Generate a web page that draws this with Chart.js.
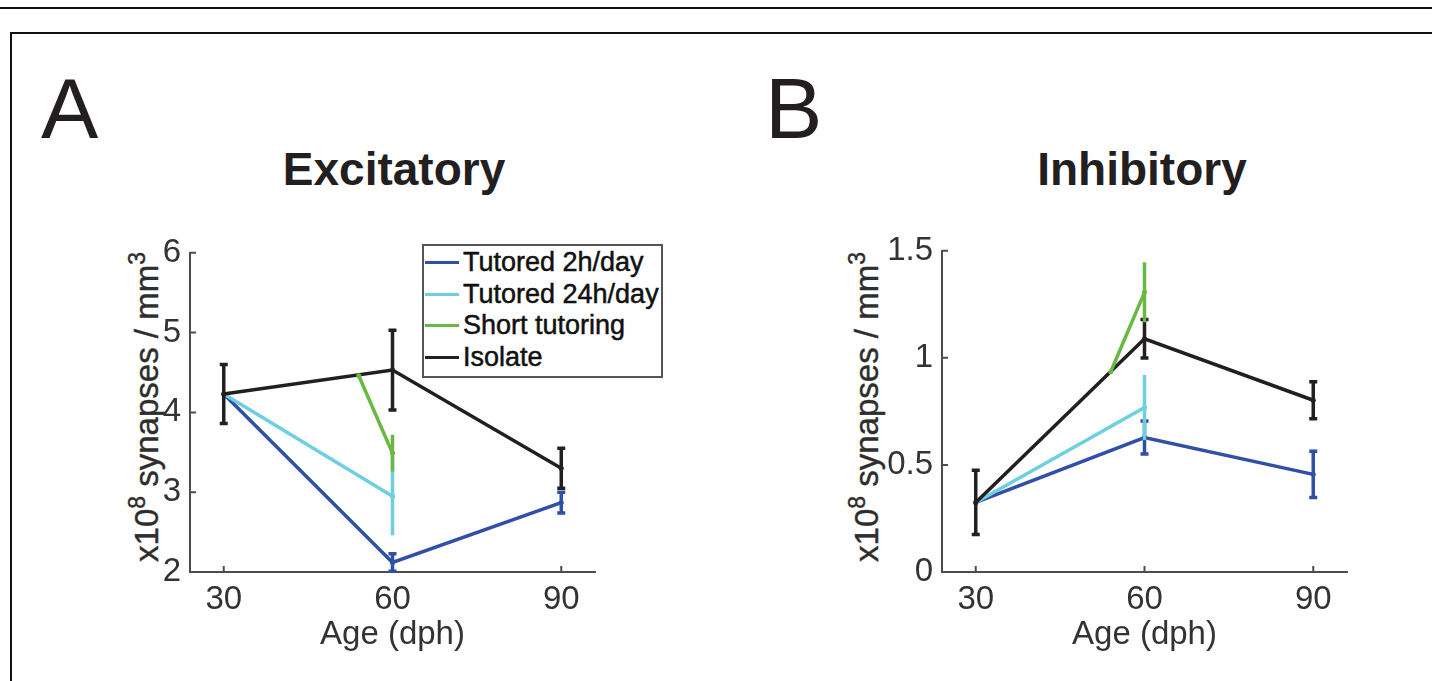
<!DOCTYPE html>
<html>
<head>
<meta charset="utf-8">
<script src="https://cdn.jsdelivr.net/npm/chart.js@4.4.1/dist/chart.umd.min.js"></script>
<style>
html,body{margin:0;padding:0;background:#fff;width:1432px;height:681px;overflow:hidden;font-family:"Liberation Sans",Arial,Helvetica,sans-serif;}
.abs{position:absolute;}
#topline{left:0;top:7px;width:1432px;height:2px;background:#111;}
#boxtop{left:10px;top:32px;width:1422px;height:2px;background:#111;}
#boxleft{left:10px;top:32px;width:2px;height:649px;background:#111;}
.panel{font-size:86px;line-height:1;color:#231f20;top:65px;}
.title{font-size:46px;font-weight:bold;line-height:1;color:#231f20;top:146px;transform:translateX(-50%);white-space:nowrap;}
.ylab{font-size:33px;color:#2e2e2e;white-space:nowrap;line-height:1;transform:translate(-50%,-50%) rotate(-90deg);-webkit-text-stroke:0.4px #2e2e2e;}
.ylab sup{font-size:23px;line-height:0;vertical-align:0.55em;}
.legend{left:422px;top:244px;width:237px;height:129px;border:2px solid #555;background:#fff;padding-top:1px;box-sizing:content-box;}
.legend .row{height:31.5px;display:flex;align-items:center;font-size:27px;color:#111;white-space:nowrap;-webkit-text-stroke:0.5px #111;}
.legend .swatch{width:34px;height:3px;margin-left:1px;margin-right:4px;}
canvas{position:absolute;}
</style>
</head>
<body>
<div id="topline" class="abs"></div>
<div id="boxtop" class="abs"></div>
<div id="boxleft" class="abs"></div>

<div class="abs panel" style="left:41px;">A</div>
<div class="abs panel" style="left:765px;">B</div>
<div class="abs title" style="left:394px;">Excitatory</div>
<div class="abs title" style="left:1142px;">Inhibitory</div>
<div class="abs ylab" style="left:146px;top:407px;">x10<sup>8</sup> synapses / mm<sup>3</sup></div>
<div class="abs ylab" style="left:866px;top:407px;">x10<sup>8</sup> synapses / mm<sup>3</sup></div>

<canvas id="chartA" width="520" height="456" style="left:100px;top:224px;width:520px;height:456px;"></canvas>
<canvas id="chartB" width="545" height="458" style="left:830px;top:222px;width:545px;height:458px;"></canvas>
<div id="legendA" class="abs legend"></div>

<script>
// ---------- data ----------
const ageTicks = [30, 60, 90];
const xTitle = 'Age (dph)';
const seriesNames = ['Tutored 2h/day', 'Tutored 24h/day', 'Short tutoring', 'Isolate'];

const ages2h = [30, 60, 90];
const ages24h = [30, 60];
const agesShort = [54, 60];
const agesIso = [30, 60, 90];

// Excitatory (panel A)
const exc2h = [4.23, 2.12, 2.87];
const exc2hErr = [0, 0.11, 0.13];
const exc24h = [4.23, 2.95];
const exc24hErr = [0, 0.49];
const excShort = [4.46, 3.49];
const excShortErr = [0, 0.23];
const excIso = [4.23, 4.53, 3.30];
const excIsoErr = [0.37, 0.50, 0.25];

// Inhibitory (panel B)
const inh2h = [0.325, 0.628, 0.456];
const inh2hErr = [0, 0.077, 0.108];
const inh24h = [0.325, 0.768];
const inh24hErr = [0, 0.152];
const inhShort = [0.935, 1.306];
const inhShortErr = [0, 0.14];
const inhIso = [0.325, 1.089, 0.802];
const inhIsoErr = [0.15, 0.09, 0.086];

// ---------- styles ----------
const seriesColors = ['#2f4fa8', '#6dcfe0', '#67b944', '#231f20'];
const seriesCaps = [4, 0, 0, 4];
const seriesOrder = [3, 2, 0, 1]; // lower = drawn on top
const FONT = '"Liberation Sans", Arial, Helvetica, sans-serif';
const AXIS = '#4d4d4d';
const TXT = '#333333';

function pts(xs, ys) { return xs.map((x, i) => ({ x: x, y: ys[i] })); }

function makeDatasets(xsList, ysList, errList) {
  return xsList.map((xs, k) => ({
    label: seriesNames[k],
    data: pts(xs, ysList[k]),
    err: errList[k],
    capHalf: seriesCaps[k],
    borderColor: seriesColors[k],
    backgroundColor: seriesColors[k],
    borderWidth: 3.5,
    pointRadius: 2.5,
    pointHoverRadius: 2.5,
    pointBorderWidth: 0,
    tension: 0,
    fill: false,
    clip: false,
    order: seriesOrder[k]
  }));
}

const errorBarPlugin = {
  id: 'errorBars',
  afterDatasetDraw(chart, args) {
    const ds = chart.data.datasets[args.index];
    if (!ds.err) return;
    const ctx = chart.ctx, ys = chart.scales.y;
    ctx.save();
    ctx.strokeStyle = ds.borderColor;
    ctx.lineWidth = 3.5;
    ctx.lineCap = 'butt';
    args.meta.data.forEach((pt, i) => {
      const e = ds.err[i];
      if (!e) return;
      const v = ds.data[i].y;
      const t = ys.getPixelForValue(v + e), b = ys.getPixelForValue(v - e);
      ctx.beginPath();
      ctx.moveTo(pt.x, t); ctx.lineTo(pt.x, b);
      if (ds.capHalf) {
        ctx.moveTo(pt.x - ds.capHalf, t); ctx.lineTo(pt.x + ds.capHalf, t);
        ctx.moveTo(pt.x - ds.capHalf, b); ctx.lineTo(pt.x + ds.capHalf, b);
      }
      ctx.stroke();
    });
    ctx.restore();
  }
};

const inwardTicks = {
  id: 'inwardTicks',
  beforeDatasetsDraw(chart) {
    const { ctx, chartArea: a, scales: { x, y } } = chart;
    ctx.save();
    ctx.strokeStyle = AXIS;
    ctx.lineWidth = 2;
    ctx.beginPath();
    x.ticks.forEach(t => { const p = x.getPixelForValue(t.value); ctx.moveTo(p, a.bottom); ctx.lineTo(p, a.bottom - 6); });
    y.ticks.forEach(t => { const p = y.getPixelForValue(t.value); ctx.moveTo(a.left, p); ctx.lineTo(a.left + 6, p); });
    ctx.stroke();
    ctx.restore();
  }
};

function buildOptions(ymin, ymax, ystep, yWidth, pad) {
  return {
    responsive: false,
    animation: false,
    events: [],
    layout: { padding: pad },
    plugins: { legend: { display: false }, tooltip: { enabled: false }, title: { display: false } },
    scales: {
      x: {
        type: 'linear', min: 24, max: 96,
        afterBuildTicks: s => { s.ticks = ageTicks.map(v => ({ value: v })); },
        afterFit: s => { s.height = 108; },
        grid: { display: false, drawTicks: false },
        border: { display: true, color: AXIS, width: 2 },
        ticks: { font: { family: FONT, size: 33 }, color: TXT, padding: 8, maxRotation: 0, autoSkip: false,
                 callback: v => String(v) },
        title: { display: true, text: xTitle, font: { family: FONT, size: 33 }, color: TXT, padding: { top: 0, bottom: 25 } }
      },
      y: {
        type: 'linear', min: ymin, max: ymax,
        afterFit: s => { s.width = yWidth; },
        grid: { display: false, drawTicks: false },
        border: { display: true, color: AXIS, width: 2 },
        ticks: { stepSize: ystep, font: { family: FONT, size: 33 }, color: TXT, padding: 9,
                 callback: v => String(v) }
      }
    }
  };
}

new Chart(document.getElementById('chartA'), {
  type: 'line',
  data: { datasets: makeDatasets([ages2h, ages24h, agesShort, agesIso], [exc2h, exc24h, excShort, excIso], [exc2hErr, exc24hErr, excShortErr, excIsoErr]) },
  options: buildOptions(2, 6, 1, 90, { left: 0, top: 25, right: 25, bottom: 0 }),
  plugins: [inwardTicks, errorBarPlugin]
});

new Chart(document.getElementById('chartB'), {
  type: 'line',
  data: { datasets: makeDatasets([ages2h, ages24h, agesShort, agesIso], [inh2h, inh24h, inhShort, inhIso], [inh2hErr, inh24hErr, inhShortErr, inhIsoErr]) },
  options: buildOptions(0, 1.5, 0.5, 112, { left: 0, top: 25, right: 28, bottom: 0 }),
  plugins: [inwardTicks, errorBarPlugin]
});

// HTML legend built from the series names/colours
const leg = document.getElementById('legendA');
seriesNames.forEach((n, k) => {
  const r = document.createElement('div');
  r.className = 'row';
  const sw = document.createElement('div');
  sw.className = 'swatch';
  sw.style.background = seriesColors[k];
  const t = document.createElement('span');
  t.textContent = n;
  r.appendChild(sw); r.appendChild(t);
  leg.appendChild(r);
});
</script>
</body>
</html>
